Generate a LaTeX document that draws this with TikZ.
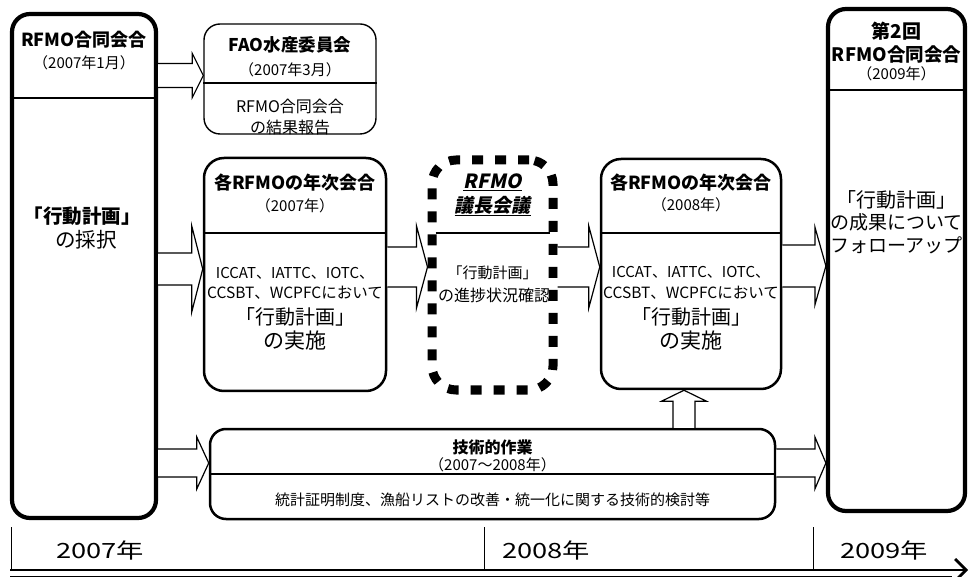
\documentclass[tikz,border=0pt]{standalone}
\usepackage{fontspec}
\usepackage{graphicx}
\setmainfont{Noto Sans CJK JP}
\newfontfamily\jpsl{Noto Sans CJK JP}[FakeSlant=0.2]
\usetikzlibrary{calc,arrows.meta}
\newcommand\fsz[1]{\fontsize{#1}{#1}\selectfont}
\newcommand\harr[6]{%
  \draw[blkarr] (#1.east |- 0,#3-#4) -- ($(#2.west |- 0,#3-#4)+(-#6,0)$) -- ($(#2.west |- 0,#3-#5)+(-#6,0)$) -- (#2.west |- 0,#3) -- ($(#2.west |- 0,#3+#5)+(-#6,0)$) -- ($(#2.west |- 0,#3+#4)+(-#6,0)$) -- (#1.east |- 0,#3+#4);}
\newcommand\varr[6]{%
  \draw[blkarr] (#1.north -| #3-#4,0) -- ($(#2.south -| #3-#4,0)+(0,#6)$) -- ($(#2.south -| #3-#5,0)+(0,#6)$) -- (#2.south -| #3,0) -- ($(#2.south -| #3+#5,0)+(0,#6)$) -- ($(#2.south -| #3+#4,0)+(0,#6)$) -- (#1.north -| #3+#4,0);}
\begin{document}
\begin{tikzpicture}[x=1pt,y=-1pt,
  boxbase/.style={draw=black, rectangle, inner sep=0pt},
  heavybox/.style={boxbase, line width=4.2pt, rounded corners=18pt},
  midbox/.style={boxbase, line width=2.5pt, rounded corners=20pt},
  lightbox/.style={boxbase, line width=1.4pt, rounded corners=16pt},
  dashbox/.style={boxbase, line width=9pt, rounded corners=24pt, dash pattern=on 11pt off 12pt},
  divider/.style={line width=1.2pt},
  blkarr/.style={draw=black, fill=white, line width=1.2pt, line join=miter},
  txt/.style={inner sep=0pt, anchor=center},
  tick/.style={line width=1pt}]
\useasboundingbox (0,0) rectangle (975,577);

% boxes
\node[heavybox, minimum width=144pt, minimum height=504pt] (L) at (84,266) {};
\node[lightbox, minimum width=172pt, minimum height=110pt] (F) at (290,79) {};
\node[midbox, minimum width=182pt, minimum height=233pt] (A) at (295,274.5) {};
\node[dashbox, minimum width=121pt, minimum height=230pt] (D) at (492.5,275) {};
\node[midbox, minimum width=180pt, minimum height=230pt] (B) at (691,274) {};
\node[heavybox, minimum width=137pt, minimum height=502pt] (R) at (896.5,260) {};
\node[midbox, line width=2.5pt, rounded corners=16pt, minimum width=565pt, minimum height=90pt] (T) at (492.5,474) {};

% dividers
\draw[divider] (L.west |- 0,98) -- (L.east |- 0,98);
\draw[divider] (F.west |- 0,83) -- (F.east |- 0,83);
\draw[divider] (A.west |- 0,233) -- (A.east |- 0,233);
\draw[divider] ($(D.west |- 0,233)+(8,0)$) -- ($(D.east |- 0,233)+(-8,0)$);
\draw[divider] (B.west |- 0,233) -- (B.east |- 0,233);
\draw[divider] (R.west |- 0,90) -- (R.east |- 0,90);
\draw[divider] (T.west |- 0,474) -- (T.east |- 0,474);

% texts: left box
\node[txt, font=\fsz{18}\bfseries] (l1) at (84,40) {RFMO合同会合};
\node[txt, font=\fsz{15}] (l2) at (84,63) {（2007年1月）};
\node[txt, font=\fsz{19.5}\bfseries] (l3) at (82,216) {「行動計画」};
\node[txt, font=\fsz{20.5}] (l4) at (86,240) {の採択};

% FAO box
\node[txt, font=\fsz{17.5}\bfseries] (f1) at (290,45) {FAO水産委員会};
\node[txt, font=\fsz{15}] (f2) at (290,70) {（2007年3月）};
\node[txt, font=\fsz{16}] (f3) at (290,106) {RFMO合同会合};
\node[txt, font=\fsz{16}] (f4) at (290,127) {の結果報告};

% 2007 box
\node[txt, font=\fsz{18}\bfseries] (a1) at (295,183) {各RFMOの年次会合};
\node[txt, font=\fsz{15}] (a2) at (295,206) {（2007年）};
\node[txt, font=\fsz{15}] (a3) at (295,273) {ICCAT、IATTC、IOTC、};
\node[txt, font=\fsz{15.5}] (a4) at (295,293) {CCSBT、WCPFCにおいて};
\node[txt, font=\fsz{20}] (a5) at (295,317) {「行動計画」};
\node[txt, font=\fsz{21}] (a6) at (295,341) {の実施};

% dashed box
\node[txt, font=\fsz{19.5}\jpsl\bfseries] (d1) at (492.5,182) {\underline{RFMO}};
\node[txt, font=\fsz{19}\jpsl\bfseries] (d2) at (492.5,206) {\underline{議長会議}};
\node[txt, font=\fsz{15}] (d3) at (492.5,273) {「行動計画」};
\node[txt, font=\fsz{16}] (d4) at (494,295) {の進捗状況確認};

% 2008 box
\node[txt, font=\fsz{18}\bfseries] (b1) at (691,183) {各RFMOの年次会合};
\node[txt, font=\fsz{15}] (b2) at (691,205) {（2008年）};
\node[txt, font=\fsz{15}] (b3) at (691,272) {ICCAT、IATTC、IOTC、};
\node[txt, font=\fsz{15.5}] (b4) at (691,293) {CCSBT、WCPFCにおいて};
\node[txt, font=\fsz{20}] (b5) at (691,317) {「行動計画」};
\node[txt, font=\fsz{21}] (b6) at (691,341) {の実施};

% right box
\node[txt, font=\fsz{19}\bfseries] (r1) at (896.5,31) {第2回};
\node[txt, font=\fsz{18.5}\bfseries] (r2) at (896.5,55) {RFMO合同会合};
\node[txt, font=\fsz{15}] (r3) at (896.5,74) {（2009年）};
\node[txt, font=\fsz{20}] (r4) at (896.5,200) {「行動計画」};
\node[txt, font=\fsz{19}] (r5) at (896.5,222) {の成果について};
\node[txt, font=\fsz{19}] (r6) at (896.5,245) {フォローアップ};

% technical box
\node[txt, font=\fsz{16}\bfseries] (t1) at (492.5,447) {技術的作業};
\node[txt, font=\fsz{15}] (t2) at (492.5,465) {（2007～2008年）};
\node[txt, font=\fsz{15}] (t3) at (492.5,500) {統計証明制度、漁船リストの改善・統一化に関する技術的検討等};

% block arrows
\harr{L}{F}{75.5}{12}{22}{11}
\harr{L}{A}{269}{16}{43}{11}
\harr{A}{D}{267}{20}{41}{11}
\harr{D}{B}{267}{20}{41}{11}
\harr{B}{R}{266}{21}{39}{11}
\harr{L}{T}{463}{14}{26}{12}
\harr{T}{R}{463}{14}{26}{11}
\varr{T}{B}{684}{11}{22.5}{11}

% timeline
\coordinate (tl0) at (10,570);
\coordinate (tl1) at (968,570);
\coordinate (tb0) at (10,576);
\coordinate (tb1) at (952,576);
\draw[line width=2.8pt, -{Straight Barb[length=11pt,width=22pt]}] (tl0) -- (tl1);
\draw[line width=0.8pt] (tb0) -- (tb1);
\coordinate (k1) at (11,527);
\coordinate (k2) at (484,527);
\coordinate (k3) at (813,527);
\draw[tick] (k1) -- (k1 |- tl0);
\draw[tick] (k2) -- (k2 |- tl0);
\draw[tick] (k3) -- (k3 |- tl0);
\node[txt, font=\fsz{21}] (y1) at (100,550) {\scalebox{1.3}[1]{2007年}};
\node[txt, font=\fsz{21}] (y2) at (546,550) {\scalebox{1.3}[1]{2008年}};
\node[txt, font=\fsz{21}] (y3) at (884,550) {\scalebox{1.3}[1]{2009年}};
\end{tikzpicture}
\end{document}
